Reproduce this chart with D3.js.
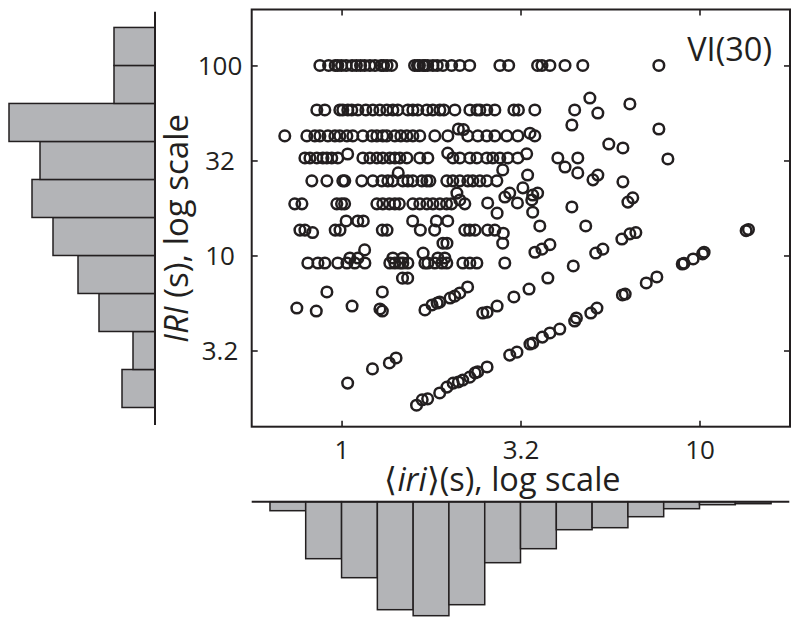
<!DOCTYPE html>
<html><head><meta charset="utf-8">
<script src="https://cdn.jsdelivr.net/npm/d3@7"></script>
<style>
html,body{margin:0;padding:0;background:#fff;}
svg{display:block;font-family:"Open Sans",sans-serif;}
</style></head><body>
<svg id="chart" width="800" height="625"></svg>
<script>
// ---------------- data (seconds) ----------------
const chartTitle = "VI(30)";
const xTickValues = [1, 3.162, 10];
const xTickLabels = ["1", "3.2", "10"];
const yTickValues = [3.162, 10, 31.62, 100];
const yTickLabels = ["3.2", "10", "32", "100"];

// rows of points sharing (nearly) the same IRI; arrays hold <iri> values
const rowLevels = [100, 58.3, 42.6, 32.6, 24.7, 18.7, 15.2, 13.6, 9.7, 9.13];
const rowIri100 = [0.87,0.92,0.96,0.976,1.0,1.03,1.07,1.10,1.13,1.16,1.20,1.24,1.29,1.31,1.34,1.38,1.60,1.63,1.65,1.69,1.71,1.74,1.80,1.85,1.92,2.03,2.14,2.28,2.77,2.93,3.53,3.63,3.82,4.21,4.72,7.70];
const rowIri58 = [0.853,0.898,0.989,1.008,1.041,1.068,1.111,1.169,1.223,1.279,1.338,1.391,1.436,1.532,1.582,1.633,1.731,1.799,1.882,1.931,2.073,2.283,2.388,2.434,2.546,2.681,3.03,3.12,3.467,4.48];
const rowIri42 = [0.694,0.80,0.842,0.87,0.916,0.958,0.989,1.035,1.075,1.147,1.215,1.255,1.304,1.338,1.409,1.464,1.522,1.582,1.654,1.822,1.981,2.253,2.403,2.546,2.681,2.896,3.108,3.467];
const rowIri32 = [0.79,0.816,0.853,0.887,0.91,0.939,0.976,1.147,1.20,1.255,1.304,1.364,1.409,1.455,1.522,1.654,1.742,2.046,2.14,2.283,2.388,2.546,2.646,2.768,2.914,3.108,4.02,4.571];
const rowIri25 = [0.826,0.91,1.008,1.021,1.139,1.223,1.296,1.347,1.391,1.483,1.532,1.582,1.676,1.731,1.765,1.968,2.046,2.14,2.253,2.327,2.434,2.546,2.716];
const rowIri19 = [0.74,0.775,0.97,1.0,1.02,1.255,1.304,1.36,1.409,1.45,1.582,1.654,1.731,1.80,1.882,1.965,2.029,2.21];
const rowIri15 = [1.03,1.11,1.15,1.58,1.84,1.98];
const rowIri13 = [0.765,0.79,0.96,0.99,1.30,1.34,1.66,1.82,2.21,2.28,2.36,2.56,2.68];
const rowIri9a = [1.055,1.111,1.391,1.483,1.858,1.943];
const rowIri9b = [0.805,0.859,0.898,0.976,1.035,1.089,1.162,1.364,1.409,1.455,1.483,1.532,1.709,1.742,1.822,1.906,1.968,2.182,2.283,2.388,2.858];

// remaining points as (<iri>, IRI) pairs
const extraIri = [4.40,4.94,5.20,6.39,5.58,6.11,7.70,8.16,2.12,2.19,3.36,1.04,1.98,3.29,1.44,2.82,4.21,4.57,5.04,5.20,6.11,6.31,6.51,4.40,3.31,3.21,3.42,3.53,3.40,3.10,3.42,2.95,2.86,2.10,2.72,2.56,3.58,4.81,2.14,0.83,2.83,
  1.92,1.97,2.82,1.16,1.69,3.47,3.63,3.82,
  1.48,1.53,0.91,1.30,2.25,
  0.75,0.85,1.07,1.28,1.30,1.71,1.79,1.85,1.88,2.01,2.07,2.14,2.48,2.55,2.72,3.03,3.34,3.77,4.44,5.13,5.37,6.07,6.39,6.64,
  1.04,1.22,1.36,1.42,
  1.62,1.68,1.74,1.88,1.97,2.05,2.12,2.18,2.28,2.36,2.40,2.55,2.95,3.09,3.36,3.42,3.64,3.82,4.07,4.48,4.53,4.97,5.17,6.09,6.20,7.10,7.60,8.95,9.05,9.60,10.2,10.3,13.5,13.7];
const extraIRI = [48.6,67.4,56.2,62.7,38.6,36.8,46.3,32.2,46.3,46.0,44.0,34.2,34.6,34.3,27.2,28.2,29.2,27.2,25.0,26.5,24.4,19.1,20.1,18.0,26.5,22.7,20.8,21.3,19.6,18.9,16.9,21.3,20.3,21.3,16.7,18.9,14.3,14.3,19.6,13.2,13.1,
  11.6,11.6,11.6,10.7,10.3,10.4,10.8,11.4,
  7.6,7.6,6.43,6.43,6.83,
  5.29,5.10,5.42,5.23,5.10,5.17,5.49,5.62,5.69,5.97,6.11,6.35,4.98,5.03,5.42,6.05,6.66,7.61,8.81,10.3,10.8,12.2,13.0,13.2,
  2.13,2.53,2.72,2.89,
  1.63,1.74,1.76,1.89,2.03,2.13,2.16,2.21,2.29,2.41,2.44,2.59,2.99,3.10,3.42,3.46,3.72,3.91,4.10,4.52,4.69,4.98,5.29,6.20,6.27,7.17,7.71,9.02,9.10,9.59,10.2,10.4,13.5,13.7];

// marginal histograms
const leftBinEdges = [1.585,2.512,3.981,6.31,10,15.85,25.12,39.81,63.1,100,158.5];
const leftCounts = [33,22,56,77,102,123,115,146,41,41];
const bottomBinEdges = [0.631,0.794,1,1.259,1.585,1.995,2.512,3.162,3.981,5.012,6.31,7.943,10,12.59,15.85];
const bottomCounts = [9,57,76,108,114,103,61,47,28,26,15,7,3,2];

// ---------------- drawing ----------------
const INK = "#231f20", GREY = "#b3b4b7";
const box = {left: 251.7, right: 790, top: 9.5, bottom: 426.7};
const svg = d3.select("#chart");

const x = d3.scaleLog().domain([0.561, 17.9]).range([box.left, box.right]);
const y = d3.scaleLog().domain([1.256, 197]).range([box.bottom, box.top]);
const len = d3.scaleLinear().domain([0, 150]).range([0, 150]);

// left histogram
const leftAxisX = 155;
svg.append("g").selectAll("rect").data(leftCounts).join("rect")
  .attr("x", d => leftAxisX - len(d))
  .attr("y", (d, i) => y(leftBinEdges[i + 1]))
  .attr("width", d => len(d))
  .attr("height", (d, i) => y(leftBinEdges[i]) - y(leftBinEdges[i + 1]))
  .attr("fill", GREY).attr("stroke", INK).attr("stroke-width", 1.5);
svg.append("line").attr("x1", leftAxisX).attr("x2", leftAxisX)
  .attr("y1", 11.7).attr("y2", 425).attr("stroke", INK).attr("stroke-width", 2);

// bottom histogram
const bottomAxisY = 501.7;
svg.append("g").selectAll("rect").data(bottomCounts).join("rect")
  .attr("x", (d, i) => x(bottomBinEdges[i]))
  .attr("y", bottomAxisY)
  .attr("width", (d, i) => x(bottomBinEdges[i + 1]) - x(bottomBinEdges[i]))
  .attr("height", d => len(d))
  .attr("fill", GREY).attr("stroke", INK).attr("stroke-width", 1.5);
svg.append("line").attr("x1", box.left).attr("x2", 789.3)
  .attr("y1", bottomAxisY).attr("y2", bottomAxisY).attr("stroke", INK).attr("stroke-width", 2);

// scatter points
const rowsIri = [rowIri100, rowIri58, rowIri42, rowIri32, rowIri25, rowIri19, rowIri15, rowIri13, rowIri9a, rowIri9b];
const points = [];
rowsIri.forEach((arr, r) => arr.forEach(v => points.push([v, rowLevels[r]])));
extraIri.forEach((v, i) => points.push([v, extraIRI[i]]));

svg.append("g").selectAll("circle").data(points).join("circle")
  .attr("cx", d => x(d[0])).attr("cy", d => y(d[1])).attr("r", 5.3)
  .attr("fill", "none").attr("stroke", INK).attr("stroke-width", 2.5);

// axes (inward ticks)
function styleAxis(g) {
  g.attr("font-family", null).attr("font-size", null);
  g.select(".domain").remove();
  g.selectAll(".tick line").attr("stroke", INK).attr("stroke-width", 1.6);
  g.selectAll(".tick text").attr("fill", INK).attr("font-size", 26);
}
const fmtX = d => xTickLabels[xTickValues.indexOf(d)];
const fmtY = d => yTickLabels[yTickValues.indexOf(d)];

svg.append("g").attr("transform", `translate(0,${box.bottom})`)
  .call(d3.axisBottom(x).tickValues(xTickValues).tickFormat(fmtX).tickSize(-6))
  .call(styleAxis)
  .call(g => g.selectAll(".tick text").attr("dy", null).attr("y", 32.5));
svg.append("g").attr("transform", `translate(0,${box.top})`)
  .call(d3.axisTop(x).tickValues(xTickValues).tickFormat("").tickSize(-6))
  .call(styleAxis);
svg.append("g").attr("transform", `translate(${box.left},0)`)
  .call(d3.axisLeft(y).tickValues(yTickValues).tickFormat(fmtY).tickSize(-6))
  .call(styleAxis)
  .call(g => g.selectAll(".tick text").attr("x", -31.7).attr("text-anchor", "middle").attr("dy", "0.36em"));
svg.append("g").attr("transform", `translate(${box.right},0)`)
  .call(d3.axisRight(y).tickValues(yTickValues).tickFormat("").tickSize(-6))
  .call(styleAxis);

// frame
svg.append("rect").attr("x", box.left).attr("y", box.top)
  .attr("width", box.right - box.left).attr("height", box.bottom - box.top)
  .attr("fill", "none").attr("stroke", INK).attr("stroke-width", 2);

// title
svg.append("text").attr("x", 772).attr("y", 61).attr("text-anchor", "end")
  .attr("font-size", 32.5).attr("fill", INK).text(chartTitle);

// x label
const xl = svg.append("text").attr("x", 502.5).attr("y", 491).attr("text-anchor", "middle")
  .attr("font-size", 32.5).attr("fill", INK);
xl.append("tspan").text("\u27E8");
xl.append("tspan").attr("font-style", "italic").text("iri");
xl.append("tspan").text("\u27E9(s), log scale");

// y label
const yl = svg.append("text").attr("transform", "translate(188,228.5) rotate(-90)")
  .attr("text-anchor", "middle").attr("font-size", 33).attr("fill", INK);
yl.append("tspan").attr("font-style", "italic").text("IRI");
yl.append("tspan").text(" (s), log scale");
</script>
</body></html>
